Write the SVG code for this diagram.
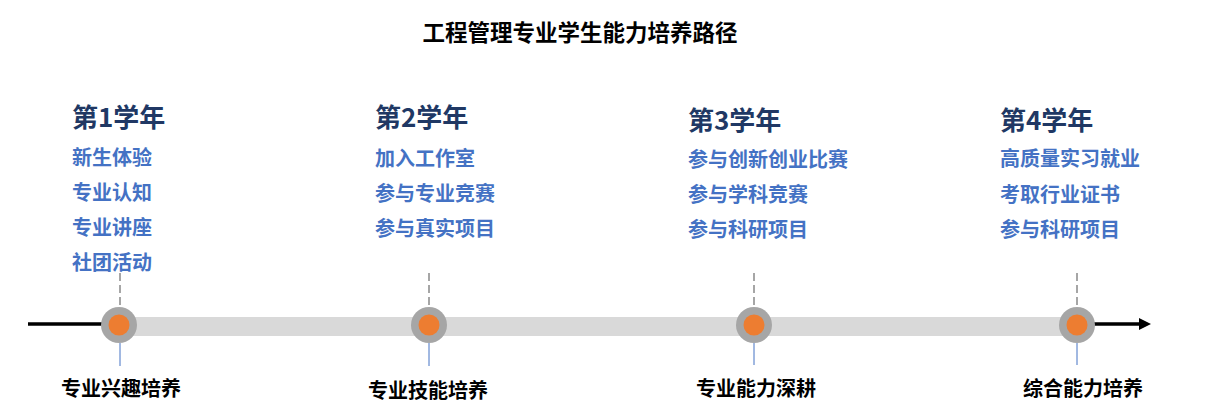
<svg xmlns="http://www.w3.org/2000/svg" width="1206" height="420" viewBox="0 0 1206 420">
<style>
text{font-family:"Noto Sans CJK SC","Noto Sans",sans-serif;font-weight:bold}
.title{font-size:22.5px;fill:#000}
.year{font-size:26px;fill:#203864}
.item{font-size:20px;fill:#4472c4}
.stage{font-size:20px;fill:#000;text-anchor:middle}
.dash{stroke:#a6a6a6;stroke-width:2;stroke-dasharray:8 4;fill:none}
.tick{stroke:#4472c4;stroke-width:1;fill:none}
.outer{fill:#a6a6a6}
.inner{fill:#ed7d31}
</style>
<defs>
<marker id="arr" viewBox="0 0 12 12" refX="1" refY="6" markerWidth="12" markerHeight="12" markerUnits="userSpaceOnUse" orient="auto">
<path d="M0,0 L12,6 L0,12 Z" fill="#000"/>
</marker>
</defs>
<rect width="1206" height="420" fill="#fff"/>
<text class="title" x="580" y="41" text-anchor="middle">工程管理专业学生能力培养路径</text>
<g id="connectors">
<line x1="28" y1="324" x2="104" y2="324" stroke="#000" stroke-width="3.5"/>
<rect x="119" y="317" width="958" height="19" fill="#d9d9d9"/>
<line x1="1090" y1="324" x2="1140" y2="324" stroke="#000" stroke-width="3.5" marker-end="url(#arr)"/>
<line class="dash" x1="120" y1="273" x2="120" y2="307"/>
<line class="dash" x1="429" y1="273" x2="429" y2="307"/>
<line class="dash" x1="754" y1="273" x2="754" y2="307"/>
<line class="dash" x1="1077" y1="273" x2="1077" y2="307"/>
<line class="tick" x1="120" y1="343" x2="120" y2="366"/>
<line class="tick" x1="429" y1="343" x2="429" y2="366"/>
<line class="tick" x1="754" y1="343" x2="754" y2="365"/>
<line class="tick" x1="1077" y1="343" x2="1077" y2="365"/>
</g>
<g id="year1">
<circle class="outer" cx="119" cy="325" r="18"/>
<circle class="inner" cx="119" cy="325" r="10.5"/>
<text class="year" x="72" y="127">第1学年</text>
<text class="item" x="72" y="165">新生体验</text>
<text class="item" x="72" y="200">专业认知</text>
<text class="item" x="72" y="235">专业讲座</text>
<text class="item" x="72" y="270">社团活动</text>
<text class="stage" x="121" y="396">专业兴趣培养</text>
</g>
<g id="year2">
<circle class="outer" cx="429" cy="325" r="18"/>
<circle class="inner" cx="429" cy="325" r="10.5"/>
<text class="year" x="375" y="127">第2学年</text>
<text class="item" x="375" y="166">加入工作室</text>
<text class="item" x="375" y="201">参与专业竞赛</text>
<text class="item" x="375" y="236">参与真实项目</text>
<text class="stage" x="428" y="398">专业技能培养</text>
</g>
<g id="year3">
<circle class="outer" cx="754" cy="325" r="18"/>
<circle class="inner" cx="754" cy="325" r="10.5"/>
<text class="year" x="688" y="130">第3学年</text>
<text class="item" x="688" y="167">参与创新创业比赛</text>
<text class="item" x="688" y="202">参与学科竞赛</text>
<text class="item" x="688" y="237">参与科研项目</text>
<text class="stage" x="756" y="396">专业能力深耕</text>
</g>
<g id="year4">
<circle class="outer" cx="1077" cy="325" r="18"/>
<circle class="inner" cx="1077" cy="325" r="10.5"/>
<text class="year" x="1000" y="130">第4学年</text>
<text class="item" x="1000" y="166">高质量实习就业</text>
<text class="item" x="1000" y="202">考取行业证书</text>
<text class="item" x="1000" y="237">参与科研项目</text>
<text class="stage" x="1083" y="396">综合能力培养</text>
</g>
</svg>
